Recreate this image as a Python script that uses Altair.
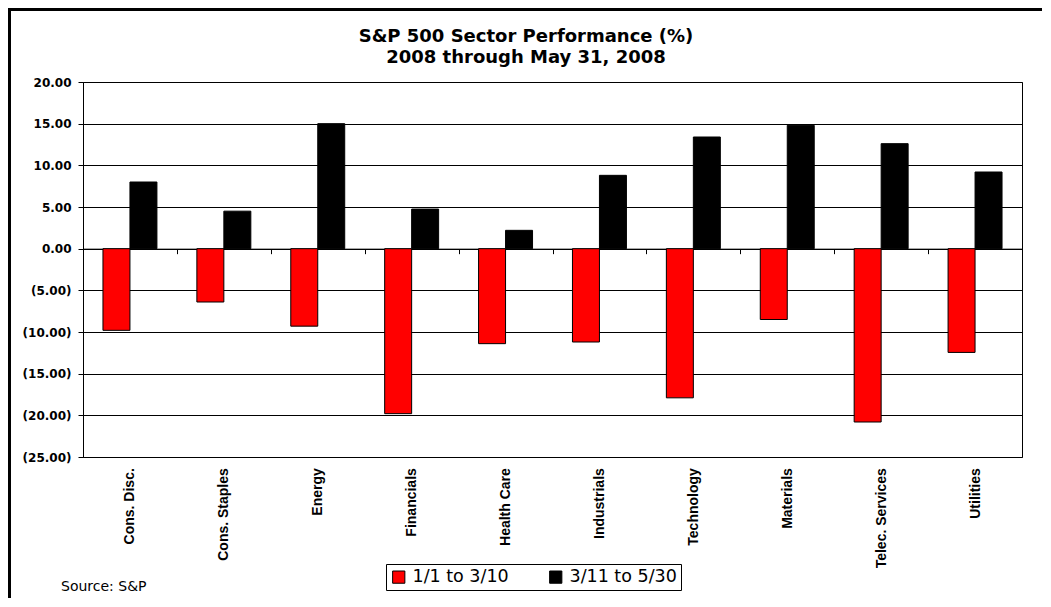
import altair as alt
import pandas as pd

categories = ["Cons. Disc.", "Cons. Staples", "Energy", "Financials", "Health Care",
              "Industrials", "Technology", "Materials", "Telec. Services", "Utilities"]
series_names = ["1/1 to 3/10", "3/11 to 5/30"]
period1 = [-9.8, -6.4, -9.3, -19.8, -11.4, -11.2, -17.9, -8.5, -20.8, -12.45]
period2 = [8.0, 4.5, 15.0, 4.75, 2.2, 8.8, 13.4, 14.8, 12.6, 9.2]
y_ticks = [20, 15, 10, 5, 0, -5, -10, -15, -20, -25]
title_lines = ["S&P 500 Sector Performance (%)", "2008 through May 31, 2008"]
source_text = "Source: S&P"

rows = []
for c, a, b in zip(categories, period1, period2):
    rows.append({"sector": c, "period": series_names[0], "value": a})
    rows.append({"sector": c, "period": series_names[1], "value": b})
df = pd.DataFrame(rows)

W, H = 939, 375
ZERO_FROM_BOTTOM = H * 25 / 45
BOTTOM_PAD = 141

bars = alt.Chart(df).mark_bar(stroke="black", strokeWidth=1).encode(
    x=alt.X("sector:N", sort=categories, title=None,
            scale=alt.Scale(paddingInner=0, paddingOuter=0),
            axis=alt.Axis(orient="bottom", offset=-ZERO_FROM_BOTTOM, labelAngle=-90,
                          labelFont="Liberation Sans", labelFontWeight="bold",
                          labelFontSize=14, labelColor="black", labelPadding=214,
                          labelOverlap=False, labelAlign="right", labelBaseline="middle",
                          tickBand="extent", tickSize=5, tickColor="black",
                          domainColor="black", domainWidth=1, grid=False)),
    xOffset=alt.XOffset("period:N", sort=series_names,
                        scale=alt.Scale(paddingInner=0, paddingOuter=0.74)),
    y=alt.Y("value:Q", title=None,
            scale=alt.Scale(domain=[-25, 20], nice=False, zero=False),
            axis=alt.Axis(values=y_ticks, grid=True, gridColor="black", gridWidth=1,
                          gridOpacity=1, tickColor="black", tickSize=5,
                          domainColor="black", labelPadding=7,
                          labelFont="DejaVu Sans", labelFontWeight="bold",
                          labelFontSize=12, labelColor="black",
                          labelExpr="datum.value < 0 ? '(' + format(-datum.value, '.2f') + ')' : format(datum.value, '.2f')")),
    color=alt.Color("period:N", sort=series_names,
                    scale=alt.Scale(domain=series_names, range=["#FF0000", "#000000"]),
                    legend=alt.Legend(title=None, orient="none", legendX=303, legendY=482,
                                      direction="horizontal", strokeColor="black",
                                      fillColor="white", padding=4,
                                      labelFont="DejaVu Sans", labelFontSize=17.5,
                                      labelColor="black", symbolType="square",
                                      symbolSize=150, symbolStrokeColor="black",
                                      symbolStrokeWidth=1, columnPadding=38,
                                      labelOffset=5)),
)

one = pd.DataFrame({"k": [0]})

title1 = alt.Chart(one).mark_text(font="DejaVu Sans", fontWeight="bold", fontSize=18,
                                  color="black", align="center", baseline="alphabetic").encode(
    x=alt.value(443), y=alt.value(-40.3), text=alt.value(title_lines[0]))
title2 = alt.Chart(one).mark_text(font="DejaVu Sans", fontWeight="bold", fontSize=18,
                                  color="black", align="center", baseline="alphabetic").encode(
    x=alt.value(443), y=alt.value(-19.3), text=alt.value(title_lines[1]))
source = alt.Chart(one).mark_text(font="DejaVu Sans", fontSize=14, color="black",
                                  align="left", baseline="alphabetic").encode(
    x=alt.value(-22), y=alt.value(509), text=alt.value(source_text))

frame_top = alt.Chart(one).mark_rule(color="black", strokeWidth=3).encode(
    x=alt.value(-75), x2=alt.value(W + 20), y=alt.value(-72.5))
frame_left = alt.Chart(one).mark_rule(color="black", strokeWidth=3).encode(
    x=alt.value(-73.5), y=alt.value(-74), y2=alt.value(H + BOTTOM_PAD))

chart = alt.layer(bars, title1, title2, source, frame_top, frame_left).properties(
    width=W, height=H,
    padding={"left": 75, "top": 74, "right": 20, "bottom": BOTTOM_PAD},
    autosize=alt.AutoSizeParams(type="none"),
    background="white",
).configure_view(stroke="black", strokeWidth=1)

chart.save("out.html", embed_options={"renderer": "svg", "actions": False})
